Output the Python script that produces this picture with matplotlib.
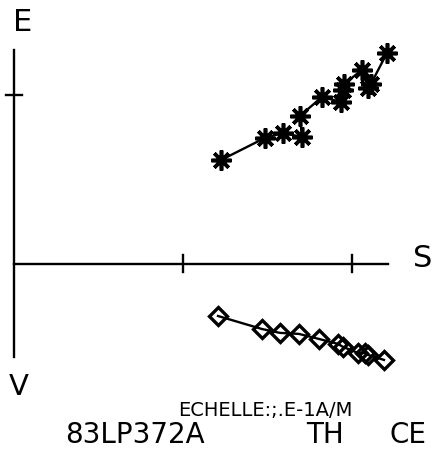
import matplotlib
matplotlib.use("Agg")
import matplotlib.pyplot as plt

# series E (stars) and V (diamonds) in axis units
s_e = [1.225, 1.485, 1.592, 1.704, 1.692, 1.822, 1.935, 1.947, 1.953, 2.059, 2.095, 2.112, 2.207]
e_vals = [0.615, 0.746, 0.775, 0.751, 0.876, 0.988, 0.959, 1.030, 1.065, 1.148, 1.041, 1.065, 1.249]

s_v = [1.207, 1.467, 1.574, 1.686, 1.805, 1.917, 1.947, 2.036, 2.077, 2.095, 2.189]
v_vals = [-0.308, -0.385, -0.408, -0.414, -0.444, -0.473, -0.491, -0.527, -0.527, -0.538, -0.568]

s_ticks = [1, 2]
e_ticks = [1]

fig = plt.figure(figsize=(4.36, 4.63), dpi=100)
ax = fig.add_axes([0, 0, 1, 1])
ax.set_xlim(-0.083, 2.497)
ax.set_ylim(-1.178, 1.562)
ax.axis("off")

lw = 1.7
# axes drawn by hand like the plotter output
ax.plot([0, 2.213], [0, 0], color="black", lw=lw)
ax.plot([0, 0], [-0.550, 1.266], color="black", lw=lw)
for t in s_ticks:
    ax.plot([t, t], [-0.05, 0.05], color="black", lw=lw)
for t in e_ticks:
    ax.plot([-0.05, 0.05], [t, t], color="black", lw=lw)

ax.plot(s_e, e_vals, color="black", lw=1.7, marker=(8, 2, 0),
        markersize=14.5, markeredgewidth=2.6, markeredgecolor="black")
ax.plot(s_v, v_vals, color="black", lw=1.7, marker="D",
        markersize=9, markeredgewidth=2.4, markerfacecolor="none",
        markeredgecolor="black")

kw = dict(family="DejaVu Sans", color="black", ha="center", va="baseline")
ax.text(0.053, 1.379, "E", fontsize=22, **kw)
ax.text(2.42, -0.018, "S", fontsize=22, **kw)
ax.text(0.030, -0.775, "V", fontsize=21, **kw)
ax.text(1.485, -0.900, "ECHELLE:;.E-1A/M", fontsize=14, **kw)
ax.text(0.716, -1.059, "83LP372A", fontsize=20, **kw)
ax.text(1.840, -1.059, "TH", fontsize=20, **kw)
ax.text(2.331, -1.059, "CE", fontsize=20, **kw)

plt.savefig("out.png", dpi=100)
plt.close()
